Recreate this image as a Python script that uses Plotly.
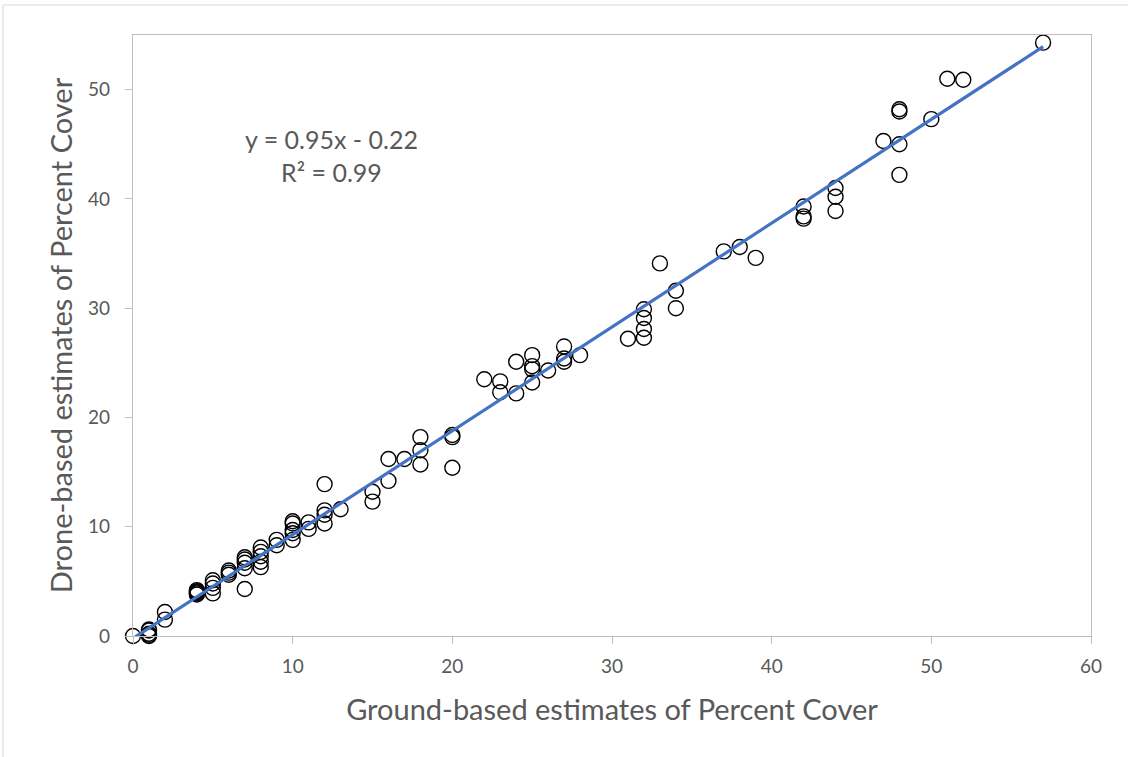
import plotly.graph_objects as go

ground = [0,
          1, 1, 1, 1, 1,
          2, 2,
          4, 4, 4, 4, 4,
          5, 5, 5, 5,
          6, 6, 6,
          7, 7, 7, 7, 7,
          8, 8, 8, 8, 8,
          9, 9,
          10, 10, 10, 10, 10,
          11, 11,
          12, 12, 12, 12,
          13,
          15, 15,
          16, 16,
          17,
          18, 18, 18,
          20, 20, 20,
          22,
          23, 23,
          24, 24,
          25, 25, 25, 25,
          26,
          27, 27, 27,
          28,
          31,
          32, 32, 32, 32,
          33,
          34, 34,
          37, 38, 39,
          42, 42, 42,
          44, 44, 44,
          47,
          48, 48, 48, 48,
          50, 51, 52, 57]

drone = [0,
         0, 0.2, 0.5, 0.6, 0.1,
         2.2, 1.5,
         3.8, 3.9, 4.0, 4.1, 4.2,
         3.9, 4.4, 4.8, 5.1,
         5.6, 5.8, 6.0,
         4.3, 6.2, 6.7, 7.0, 7.2,
         6.3, 6.8, 7.3, 7.7, 8.1,
         8.3, 8.8,
         8.8, 9.4, 9.7, 10.3, 10.5,
         9.8, 10.4,
         10.3, 11.1, 11.5, 13.9,
         11.6,
         12.3, 13.2,
         14.2, 16.2,
         16.2,
         15.7, 17.0, 18.2,
         15.4, 18.2, 18.4,
         23.5,
         22.3, 23.3,
         22.2, 25.1,
         23.2, 24.4, 24.7, 25.7,
         24.3,
         25.1, 25.4, 26.5,
         25.7,
         27.2,
         27.3, 28.1, 29.1, 29.9,
         34.1,
         30.0, 31.6,
         35.2, 35.6, 34.6,
         38.2, 38.4, 39.3,
         38.9, 40.2, 41.0,
         45.3,
         42.2, 45.0, 48.0, 48.2,
         47.3, 51.0, 50.9, 54.3]

slope = 0.95
intercept = -0.22
r_squared = 0.99

x_ticks = [0, 10, 20, 30, 40, 50, 60]
y_ticks = [0, 10, 20, 30, 40, 50]

FONT = "Lato"
GREY = "#595959"

fig = go.Figure()

fig.add_trace(go.Scatter(
    x=ground, y=drone, mode="markers",
    marker=dict(symbol="circle-open", size=15, color="black",
                line=dict(color="black", width=1.4)),
    showlegend=False, cliponaxis=False,
))

x_line = [min(ground), max(ground)]
y_line = [slope * v + intercept for v in x_line]
fig.add_trace(go.Scatter(
    x=x_line, y=y_line, mode="lines",
    line=dict(color="#4472C4", width=3.2),
    showlegend=False, cliponaxis=False,
))

fig.add_annotation(
    x=12.45, y=44.0, xref="x", yref="y",
    text=f"y = {slope:.2f}x - {abs(intercept):.2f}<br>R² = {r_squared:.2f}",
    showarrow=False, align="center",
    font=dict(family=FONT, size=25, color=GREY),
)

# outer chart border
fig.add_shape(type="rect", xref="paper", yref="paper",
              x0=-0.1357, y0=-0.4, x1=1.2, y1=1.0499,
              line=dict(color="#d9d9d9", width=1), fillcolor="rgba(0,0,0,0)",
              layer="below")

fig.update_layout(
    width=1128, height=757,
    margin=dict(l=133, r=37, t=35, b=121),
    plot_bgcolor="white", paper_bgcolor="white",
    font=dict(family=FONT, color=GREY),
    xaxis=dict(
        range=[0, 60], tickvals=x_ticks, showgrid=False, zeroline=False,
        showline=True, mirror=True, linecolor="#bfbfbf", linewidth=1.3,
        ticks="outside", ticklen=7, tickcolor="#bfbfbf",
        ticklabelstandoff=6,
        tickfont=dict(size=19, color=GREY),
        title=dict(text="Ground-based estimates of Percent Cover",
                   font=dict(size=29, color=GREY), standoff=23),
    ),
    yaxis=dict(
        range=[0, 55], tickvals=y_ticks, showgrid=False, zeroline=False,
        showline=True, mirror=True, linecolor="#bfbfbf", linewidth=1.3,
        ticks="outside", ticklen=7, tickcolor="#bfbfbf",
        ticklabelstandoff=11,
        tickfont=dict(size=19, color=GREY),
        title=dict(text="Drone-based estimates of Percent Cover",
                   font=dict(size=29, color=GREY), standoff=6),
    ),
)

fig.write_html("out.html")
